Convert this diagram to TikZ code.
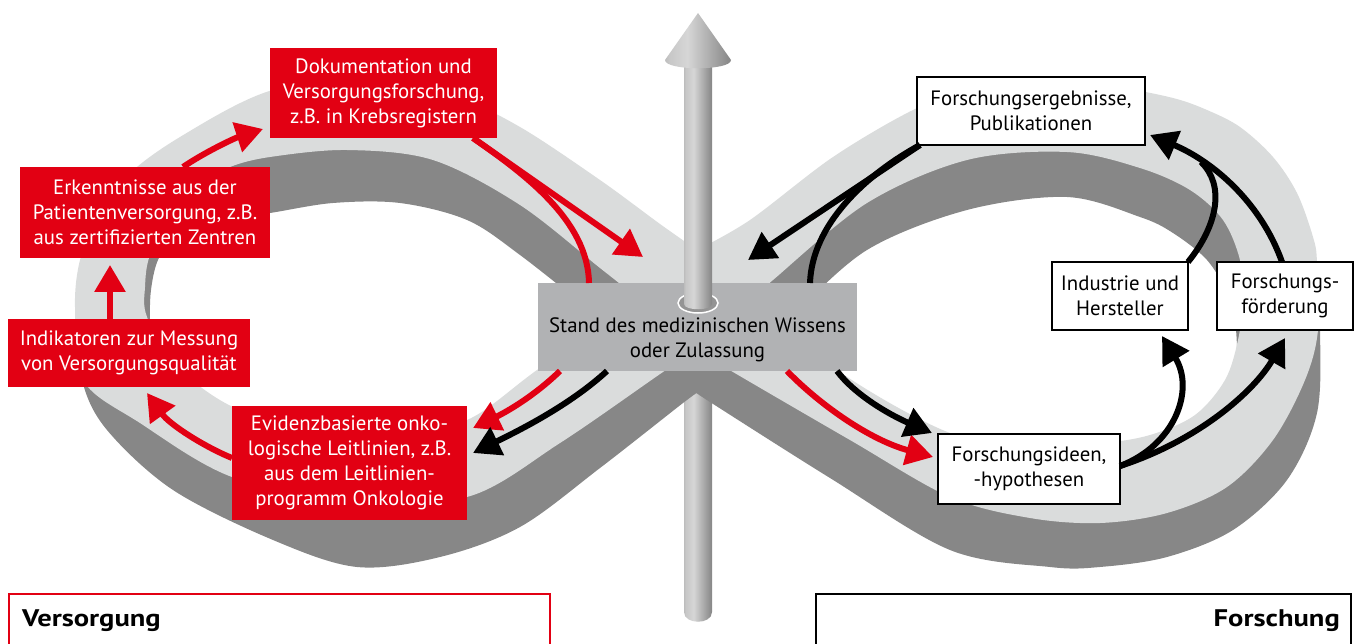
\documentclass[tikz,border=0pt]{standalone}
\usepackage{fontspec}
\setmainfont{PT Sans}
\usetikzlibrary{arrows.meta}
\definecolor{bandlight}{RGB}{218,220,220}
\definecolor{banddark}{RGB}{135,135,135}
\definecolor{boxred}{RGB}{226,0,19}
\definecolor{centergray}{RGB}{177,178,180}
\pgfdeclarehorizontalshading{poleshade}{100bp}{color(0bp)=(black!58); color(28bp)=(black!22); color(42bp)=(black!16); color(72bp)=(black!45); color(100bp)=(black!65)}
\begin{document}
\begin{tikzpicture}[x=1pt,y=-1pt,
  redbox/.style={fill=boxred,text=white,align=center,inner sep=0pt,font=\fontsize{20.8}{25}\selectfont},
  whitebox/.style={fill=white,draw=black,line width=2.5pt,text=black,align=center,inner sep=0pt,font=\fontsize{20.8}{25}\selectfont},
  redarrow/.style={draw=boxred,line width=6pt,-{Triangle[length=27pt,width=30pt]}},
  blackarrow/.style={draw=black,line width=6pt,-{Triangle[length=27pt,width=30pt]}},
  redline/.style={draw=boxred,line width=6pt},
  blackline/.style={draw=black,line width=6pt},
  legendbox/.style={fill=white,line width=2pt,inner sep=0pt,anchor=north west},
  legendtext/.style={font=\fontsize{24}{28}\selectfont\bfseries,inner sep=0pt}
]
\useasboundingbox (0,0) rectangle (1357,644);

% lower part of the pole (behind the band)
\path[shading=poleshade] (684,380) -- (684,612) .. controls (684,625) and (712,625) .. (712,612) -- (712,380) -- cycle;

% dark side of the band
\fill[banddark,even odd rule]
  plot[smooth,tension=0.55] coordinates {(697,258) (660,232) (600,188) (520,135) (460,108) (370,94) (273,98) (180,145) (123,188) (95,236) (80,270) (76,310) (82,380) (107,430) (173,490) (273,540) (357,567) (440,557) (520,527) (600,468) (683,403) (697,393)}
  -- plot[smooth,tension=0.55] coordinates {(697,393) (710,402) (830,478) (950,550) (1050,567) (1100,567) (1167,557) (1233,530) (1287,480) (1317,413) (1320,330) (1316,268) (1311,245) (1295,201) (1271,165) (1240,135) (1207,118) (1173,106) (1120,95) (1050,91) (960,103) (913,118) (833,165) (750,228) (697,258)}
  -- cycle
  (640,348) -- plot[smooth,tension=0.55] coordinates {(640,348) (600,318) (520,255) (467,220) (400,203) (333,203) (270,213) (220,220) (175,237) (158,260) (151,290) (150,322) (152,365) (175,415) (233,457) (300,472) (400,478) (467,470) (537,420) (640,348)} -- cycle
  (760,346) -- plot[smooth,tension=0.55] coordinates {(760,346) (837,420) (950,483) (1030,493) (1100,493) (1150,485) (1195,465) (1225,430) (1236,380) (1236,330) (1228,295) (1207,260) (1173,233) (1140,217) (1067,197) (967,210) (867,250) (790,318) (760,346)} -- cycle;

% top surface of the band
\fill[bandlight,even odd rule]
  plot[smooth,tension=0.55] coordinates {(697,250) (660,224) (600,180) (520,127) (460,100) (370,86) (273,90) (180,137) (123,180) (95,228) (80,260) (75,307) (83,380) (140,423) (232,477) (350,500) (467,497) (560,443) (663,372) (697,350)}
  -- plot[smooth,tension=0.55] coordinates {(697,350) (733,372) (850,440) (950,497) (1030,518) (1100,523) (1167,513) (1227,487) (1273,440) (1305,380) (1318,330) (1317,262) (1313,237) (1297,193) (1273,157) (1240,127) (1207,110) (1173,98) (1120,88) (1050,83) (960,95) (913,110) (833,157) (750,220) (697,250)}
  -- cycle
  (638,298) -- plot[smooth,tension=0.55] coordinates {(638,298) (537,370) (467,420) (400,428) (300,422) (233,407) (175,365) (147,317) (145,287) (150,255) (172,215) (205,183) (230,167) (270,157) (347,150) (433,160) (520,205) (600,268) (638,298)} -- cycle
  (756,296) -- plot[smooth,tension=0.55] coordinates {(756,296) (773,280) (867,203) (967,160) (1067,152) (1140,168) (1190,190) (1223,220) (1240,260) (1243,300) (1238,340) (1225,380) (1195,415) (1150,435) (1100,443) (1030,443) (950,433) (837,370) (756,296)} -- cycle;

% centre box
\node[fill=centergray,minimum width=319,minimum height=88,inner sep=0pt] (cbox) at (697.5,327) {};
\draw[white,line width=1.5pt,fill=black!42] (698,303) ellipse [x radius=20, y radius=10];
% upper part of the pole and the cone
\path[shading=poleshade] (684,66) -- (684,304) .. controls (684,311) and (712,311) .. (712,304) -- (712,66) -- cycle;
\path[shading=poleshade] (698,13) -- (731,60) .. controls (731,71) and (665,71) .. (665,60) -- cycle;
\node[font=\fontsize{20.8}{25}\selectfont,align=center,inner sep=0pt] (ctext) at (697.5,340) {Stand des medizinischen Wissens\\oder Zulassung};

% boxes
\node[redbox,minimum width=227,minimum height=90] (dok) at (383.5,93) {Dokumentation und\\Versorgungsforschung,\\z.B. in Krebsregistern};
\node[redbox,minimum width=250,minimum height=91] (erk) at (145,212.5) {Erkenntnisse aus der\\Patientenversorgung, z.B.\\aus zertifizierten Zentren};
\node[redbox,minimum width=242,minimum height=68] (ind) at (129,353) {Indikatoren zur Messung\\von Versorgungsqualität};
\node[redbox,minimum width=235,minimum height=114] (evi) at (349.5,463) {Evidenzbasierte onko-\\logische Leitlinien, z.B.\\aus dem Leitlinien-\\programm Onkologie};
\node[whitebox,minimum width=228,minimum height=68] (fe) at (1031,111) {Forschungsergebnisse,\\Publikationen};
\node[whitebox,minimum width=136,minimum height=68] (ih) at (1120,296) {Industrie und\\Hersteller};
\node[whitebox,minimum width=136,minimum height=68] (ff) at (1285,296) {Forschungs-\\förderung};
\node[whitebox,minimum width=182,minimum height=70] (fi) at (1029,469) {Forschungsideen,\\-hypothesen};

% connector end points
\coordinate (r1s) at (232,458);  \coordinate (r1e) at (147,393);
\coordinate (r2s) at (110,319);  \coordinate (r2e) at (110,265);
\coordinate (r3s) at (183,167);  \coordinate (r3e) at (263,129);
\coordinate (r4s) at (473,138);  \coordinate (r4e) at (643,257);
\coordinate (r4b) at (589,283);
\coordinate (r5s) at (560,371);  \coordinate (r5e) at (473,428);
\coordinate (r6s) at (787,371);  \coordinate (r6e) at (933,457);
\coordinate (b1s) at (607,371);  \coordinate (b1e) at (473,453);
\coordinate (b2s) at (837,371);  \coordinate (b2e) at (932,433);
\coordinate (b3s) at (920,145);  \coordinate (b3e) at (748,260);
\coordinate (b3b) at (810,283);
\coordinate (b4s) at (1120,466); \coordinate (b4e) at (1162,336);
\coordinate (b5e) at (1285,338);
\coordinate (b6s) at (1188,262); \coordinate (b6m) at (1201,162);
\coordinate (b7s) at (1282,262); \coordinate (b7e) at (1150,135);

% red connectors
\draw[redarrow] (r1s) .. controls (205,447) and (170,425) .. (r1e);
\draw[redarrow] (r2s) -- (r2e);
\draw[redarrow] (r3s) .. controls (205,152) and (235,138) .. (r3e);
\draw[redline] (r4s) .. controls (523,173) and (588,220) .. (r4b);
\draw[redarrow] (r4s) -- (r4e);
\draw[redarrow] (r5s) .. controls (530,400) and (500,415) .. (r5e);
\draw[redarrow] (r6s) .. controls (820,405) and (870,440) .. (r6e);

% black connectors
\draw[blackarrow] (b1s) .. controls (570,405) and (520,430) .. (b1e);
\draw[blackarrow] (b2s) .. controls (855,395) and (890,415) .. (b2e);
\draw[blackline] (b3s) .. controls (865,175) and (812,225) .. (b3b);
\draw[blackarrow] (b3s) -- (b3e);
\draw[blackarrow] (b4s) .. controls (1175,445) and (1195,390) .. (b4e);
\draw[blackarrow] (b4s) .. controls (1200,440) and (1255,390) .. (b5e);
\draw[blackline] (b6s) .. controls (1218,225) and (1225,185) .. (b6m);
\draw[blackarrow] (b7s) .. controls (1260,200) and (1210,160) .. (b7e);

% legend boxes
\node[legendbox,draw=boxred,minimum width=541,minimum height=70] (vers) at (8,593) {};
\node[legendtext,anchor=west] (verst) at (22,621) {\scalebox{1.19}[1]{Versorgung}};
\node[legendbox,draw=black,minimum width=535,minimum height=70] (fors) at (815,593) {};
\node[legendtext,anchor=east] (forst) at (1340,621) {\scalebox{1.19}[1]{Forschung}};
\end{tikzpicture}
\end{document}
